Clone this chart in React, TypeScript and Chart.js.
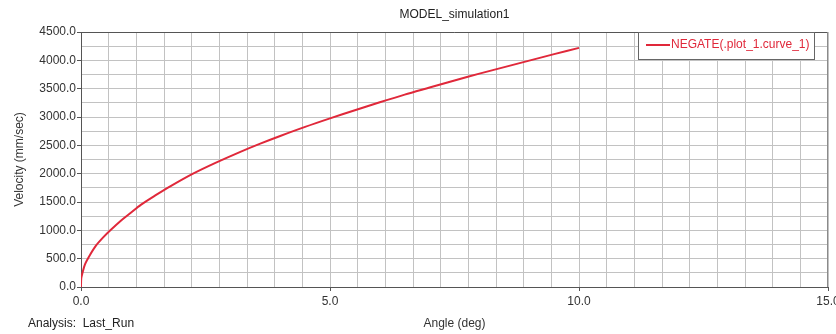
import React, { useEffect, useRef } from "react";
import { Chart, registerables } from "chart.js";

Chart.register(...registerables);

const TITLE = "MODEL_simulation1";
const SERIES_LABEL = "NEGATE(.plot_1.curve_1)";
const X_TITLE = "Angle (deg)";
const Y_TITLE = "Velocity (mm/sec)";
const ANALYSIS = "Analysis:  Last_Run";

const angle = [0, 0.005, 0.03, 0.08, 0.18, 0.3, 0.45, 0.6, 0.8, 1.0, 1.2, 1.5, 1.8, 2.25, 2.7, 3.2, 3.6, 4.0, 4.5, 5.0, 5.5, 6.0, 6.5, 7.0, 7.5, 8.0, 8.5, 9.0, 9.5, 10.0];
const velocity = [0, 150, 250, 400, 565, 730, 880, 1010, 1170, 1310, 1450, 1620, 1780, 2000, 2190, 2385, 2530, 2665, 2825, 2975, 3120, 3260, 3395, 3520, 3645, 3765, 3880, 3995, 4110, 4220];

const X_MIN = 0;
const X_MAX = 15;
const X_DIVISIONS = 27;
const X_LABEL_STEP = 5;
const Y_MIN = 0;
const Y_MAX = 4500;
const Y_STEP = 250;
const Y_LABEL_STEP = 500;

const FONT = "'Liberation Sans', Arial, sans-serif";
const RED = "#e0283a";
const GRID = "#c2c2c2";
const AXIS = "#555555";

const isMult = (v: number, s: number) => Math.abs(v / s - Math.round(v / s)) < 1e-6;

const framePlugin = {
  id: "frame",
  afterDraw(chart: any) {
    const { ctx, chartArea } = chart;
    const { left, right, top, bottom } = chartArea;
    ctx.save();
    ctx.strokeStyle = AXIS;
    ctx.lineWidth = 1;
    ctx.beginPath();
    ctx.moveTo(left, top + 0.5);
    ctx.lineTo(right, top + 0.5);
    ctx.stroke();
    ctx.strokeStyle = "#8a8a8a";
    ctx.beginPath();
    ctx.moveTo(right - 0.5, top);
    ctx.lineTo(right - 0.5, bottom);
    ctx.stroke();

    ctx.fillStyle = "#222";
    ctx.font = `12px ${FONT}`;
    ctx.textAlign = "center";
    ctx.textBaseline = "middle";
    ctx.fillText(TITLE, (left + right) / 2, 15);

    ctx.textAlign = "left";
    ctx.fillText(ANALYSIS, 28, 324);

    const lx = 638, ly = top, lw = 176, lh = 27;
    ctx.fillStyle = "#ffffff";
    ctx.fillRect(lx, ly, lw, lh);
    ctx.strokeStyle = "#666";
    ctx.lineWidth = 1;
    ctx.strokeRect(lx + 0.5, ly + 0.5, lw, lh);
    const ds = chart.data.datasets[0];
    ctx.strokeStyle = ds.borderColor;
    ctx.lineWidth = 2;
    ctx.beginPath();
    ctx.moveTo(lx + 8, ly + 13);
    ctx.lineTo(lx + 32, ly + 13);
    ctx.stroke();
    ctx.fillStyle = ds.borderColor;
    ctx.font = `12px ${FONT}`;
    ctx.textAlign = "left";
    ctx.fillText(ds.label, lx + 33, ly + 13);
    ctx.restore();
  },
};

export default function App() {
  const ref = useRef<HTMLCanvasElement | null>(null);
  useEffect(() => {
    if (!ref.current) return;
    const chart = new Chart(ref.current, {
      type: "line",
      data: {
        datasets: [
          {
            label: SERIES_LABEL,
            data: angle.map((x, i) => ({ x, y: velocity[i] })),
            borderColor: RED,
            backgroundColor: RED,
            borderWidth: 2,
            pointRadius: 0,
            tension: 0.3,
            fill: false,
          },
        ],
      },
      options: {
        animation: false,
        responsive: false,
        devicePixelRatio: 1,
        layout: { padding: { top: 32, left: 0, right: 8, bottom: 0 } },
        plugins: {
          legend: { display: false },
          title: { display: false },
          tooltip: { enabled: false },
        },
        scales: {
          x: {
            type: "linear",
            min: X_MIN,
            max: X_MAX,
            afterBuildTicks: (scale: any) => {
              scale.ticks = Array.from({ length: X_DIVISIONS + 1 }, (_, i) => ({
                value: X_MIN + (i * (X_MAX - X_MIN)) / X_DIVISIONS,
              }));
            },
            afterFit: (scale: any) => {
              scale.height = 47;
              scale.paddingLeft = 0;
              scale.paddingRight = 0;
            },
            ticks: {
              autoSkip: false,
              maxRotation: 0,
              padding: 3,
              color: "#333",
              font: { family: FONT, size: 12 },
              callback: (v: any) => (isMult(Number(v), X_LABEL_STEP) ? Number(v).toFixed(1) : ""),
            },
            grid: {
              color: GRID,
              lineWidth: 1,
              tickLength: 4,
              tickColor: (c: any) => (c.tick && isMult(c.tick.value, X_LABEL_STEP) ? AXIS : "rgba(0,0,0,0)"),
            },
            border: { color: AXIS, width: 1 },
            title: {
              display: true,
              text: X_TITLE,
              color: "#333",
              font: { family: FONT, size: 12 },
              padding: { top: 0, bottom: 3 },
            },
          },
          y: {
            type: "linear",
            min: Y_MIN,
            max: Y_MAX,
            afterFit: (scale: any) => {
              scale.width = 81;
            },
            ticks: {
              stepSize: Y_STEP,
              autoSkip: false,
              padding: 1,
              color: "#333",
              font: { family: FONT, size: 12 },
              callback: (v: any) => (isMult(Number(v), Y_LABEL_STEP) ? Number(v).toFixed(1) : ""),
            },
            grid: {
              color: GRID,
              lineWidth: 1,
              tickLength: 4,
              tickColor: (c: any) => (c.tick && isMult(c.tick.value, Y_LABEL_STEP) ? AXIS : "rgba(0,0,0,0)"),
            },
            border: { color: AXIS, width: 1 },
            title: {
              display: true,
              text: Y_TITLE,
              color: "#333",
              font: { family: FONT, size: 12 },
              padding: { top: 12, bottom: 0 },
            },
          },
        },
      },
      plugins: [framePlugin],
    });
    return () => chart.destroy();
  }, []);
  return (
    <div style={{ position: "fixed", left: 0, top: 0, width: 836, height: 334, background: "#fff" }}>
      <canvas ref={ref} width={836} height={334} style={{ display: "block" }} />
    </div>
  );
}
